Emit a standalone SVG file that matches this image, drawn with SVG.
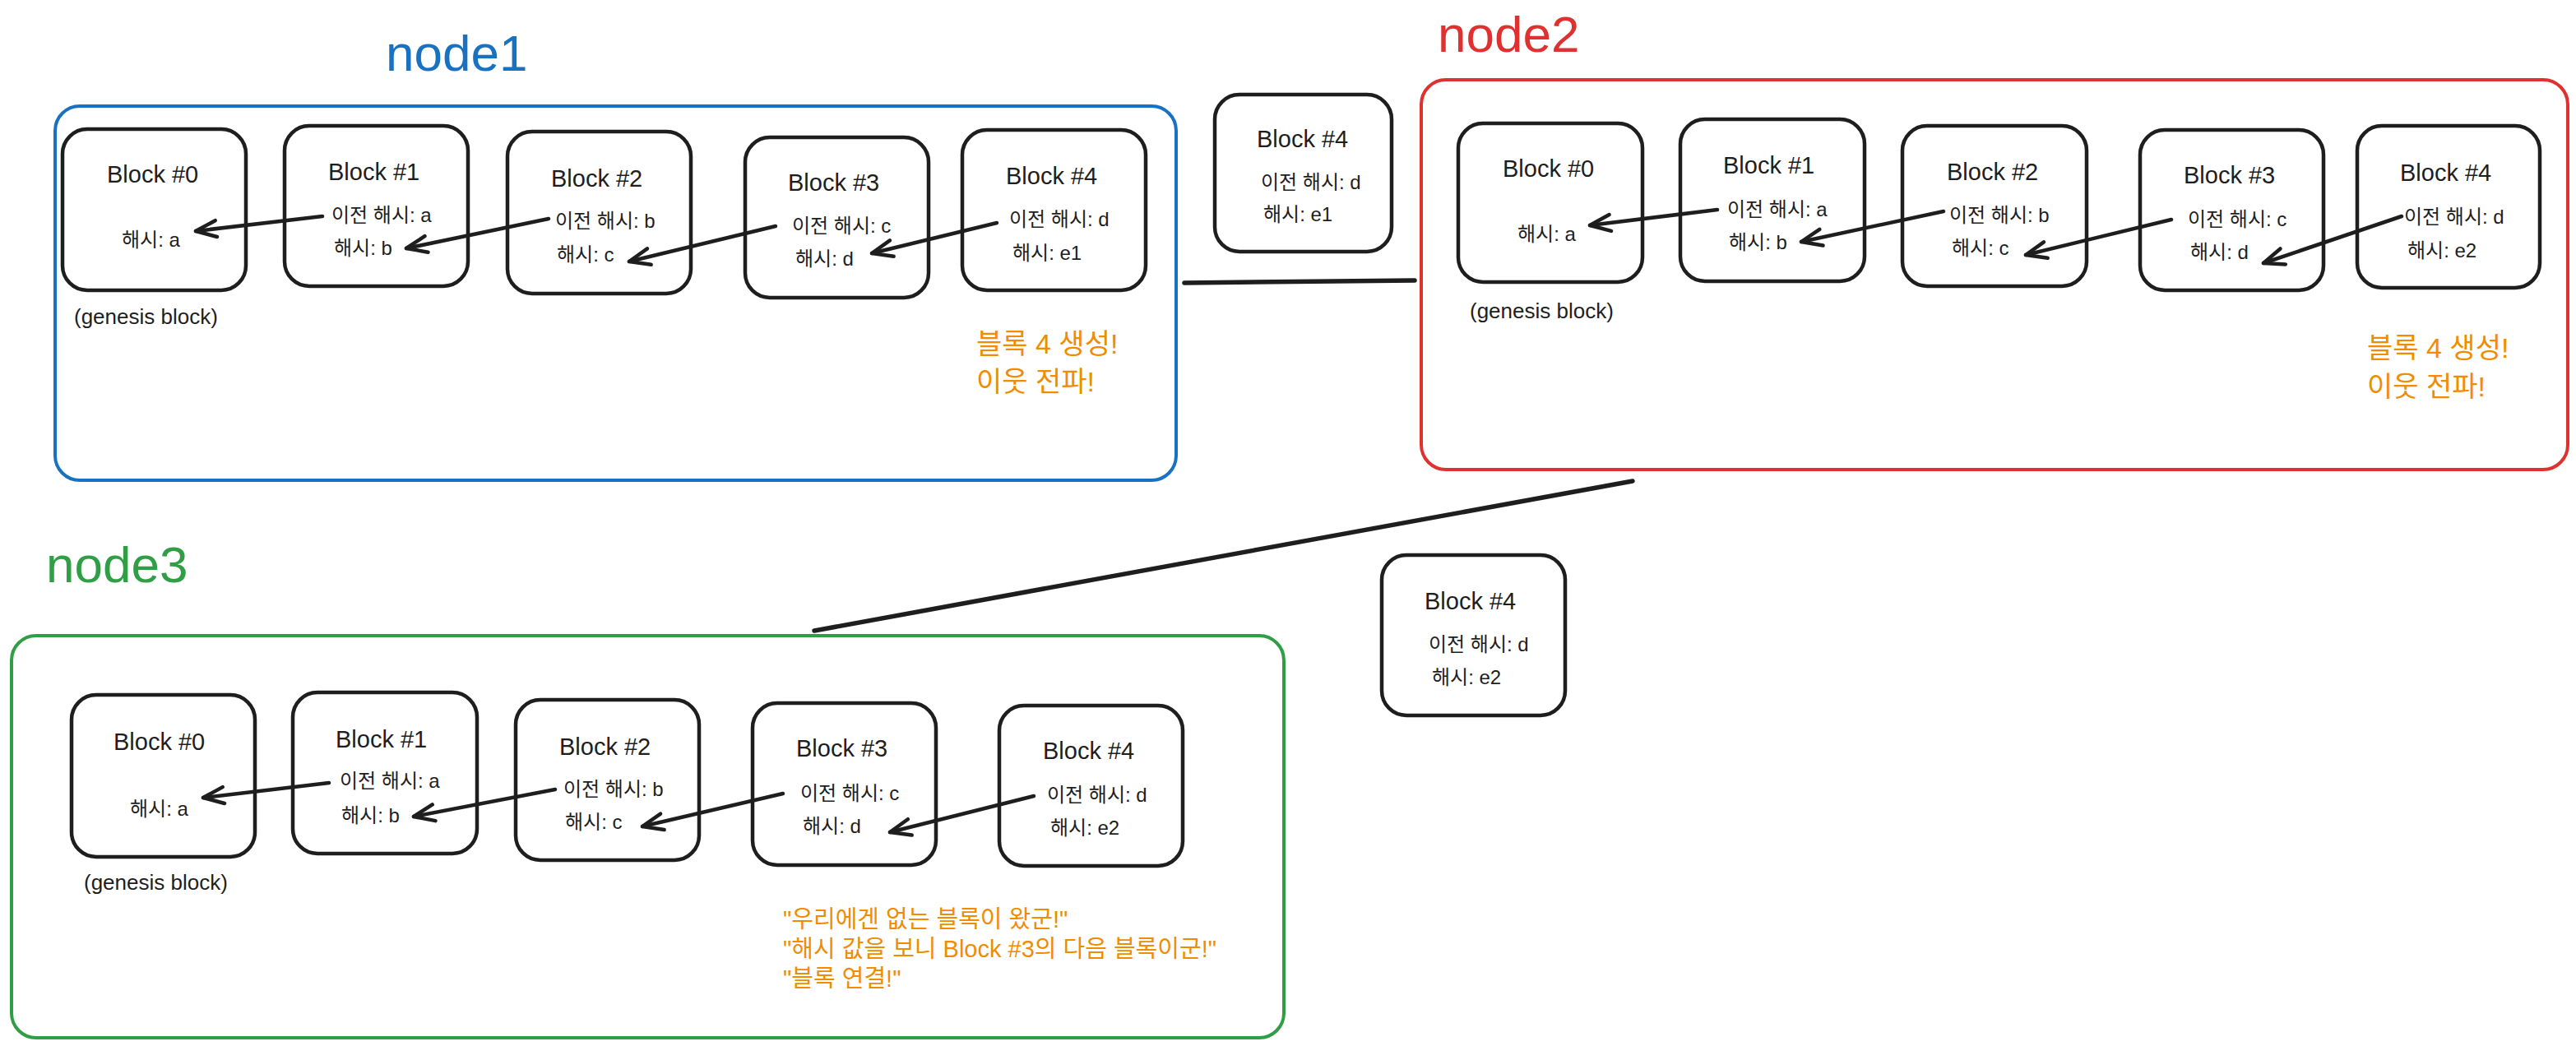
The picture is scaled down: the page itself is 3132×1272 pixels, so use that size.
<svg xmlns="http://www.w3.org/2000/svg" width="3132" height="1272" viewBox="0 0 3132 1272">
<defs>
<style>
.bg{fill:#ffffff}
.blk{fill:none;stroke:#1e1e1e;stroke-width:4.5}
.t{font-family:"Liberation Sans","Noto Sans CJK KR",sans-serif;fill:#1e1e1e}
.ttl{font-size:29px}
.h{font-size:24px}
.gen{font-size:26px}
.or{font-family:"Liberation Sans","Noto Sans CJK KR",sans-serif;fill:#f08c00}
.or1{font-size:34px}
.or2{font-size:29px}
.name{font-family:"Liberation Sans","Noto Sans CJK KR",sans-serif;font-size:62px}
.arr{fill:none;stroke:#1e1e1e;stroke-width:4.5;stroke-linecap:round;marker-end:url(#ah)}
.link{fill:none;stroke:#1e1e1e;stroke-width:5.5;stroke-linecap:round}
</style>
<marker id="ah" markerUnits="userSpaceOnUse" markerWidth="40" markerHeight="40" refX="0" refY="0" orient="auto" overflow="visible">
<path d="M -25 -10 L 0 0 L -25 10" fill="none" stroke="#1e1e1e" stroke-width="4.5" stroke-linecap="round" stroke-linejoin="round"/>
</marker>
</defs>
<rect class="bg" x="0" y="0" width="3132" height="1272"/>

<g id="node1">
<text class="name" x="469" y="86" fill="#1971c2">node1</text>
<rect x="67" y="129" width="1363" height="455" rx="30" fill="none" stroke="#1971c2" stroke-width="4"/>
<text class="or or1" x="1187" y="430">블록 4 생성!</text>
<text class="or or1" x="1187" y="476">이웃 전파!</text>
<text class="t gen" x="90" y="394">(genesis block)</text>
</g>
<g id="n1-block0">
<rect class="blk" x="76" y="157" width="223" height="196" rx="30"/>
<text class="t ttl" x="130" y="222">Block #0</text>
<text class="t h" x="148" y="300">해시: a</text>
</g>
<g id="n1-block1">
<rect class="blk" x="346" y="153" width="223" height="195" rx="30"/>
<text class="t ttl" x="399" y="219">Block #1</text>
<text class="t h" x="403" y="270">이전 해시: a</text>
<text class="t h" x="406" y="310">해시: b</text>
</g>
<g id="n1-block2">
<rect class="blk" x="617" y="160" width="223" height="197" rx="30"/>
<text class="t ttl" x="670" y="227">Block #2</text>
<text class="t h" x="675" y="277">이전 해시: b</text>
<text class="t h" x="677" y="318">해시: c</text>
</g>
<g id="n1-block3">
<rect class="blk" x="906" y="167" width="223" height="195" rx="30"/>
<text class="t ttl" x="958" y="232">Block #3</text>
<text class="t h" x="963" y="283">이전 해시: c</text>
<text class="t h" x="967" y="323">해시: d</text>
</g>
<g id="n1-block4">
<rect class="blk" x="1170" y="158" width="223" height="195" rx="30"/>
<text class="t ttl" x="1223" y="224">Block #4</text>
<text class="t h" x="1227" y="275">이전 해시: d</text>
<text class="t h" x="1231" y="316">해시: e1</text>
</g>

<g id="sent-block4">
<rect class="blk" x="1477" y="115" width="215" height="191" rx="30"/>
<text class="t ttl" x="1528" y="179">Block #4</text>
<text class="t h" x="1533" y="230">이전 해시: d</text>
<text class="t h" x="1536" y="269">해시: e1</text>
</g>

<g id="node2">
<text class="name" x="1748" y="63" fill="#e03131">node2</text>
<rect x="1728" y="97" width="1394" height="474" rx="30" fill="none" stroke="#e03131" stroke-width="4"/>
<text class="or or1" x="2878" y="435">블록 4 생성!</text>
<text class="or or1" x="2878" y="482">이웃 전파!</text>
<text class="t gen" x="1787" y="387">(genesis block)</text>
</g>
<g id="n2-block0">
<rect class="blk" x="1773" y="150" width="224" height="193" rx="30"/>
<text class="t ttl" x="1827" y="215">Block #0</text>
<text class="t h" x="1845" y="293">해시: a</text>
</g>
<g id="n2-block1">
<rect class="blk" x="2043" y="145" width="224" height="197" rx="30"/>
<text class="t ttl" x="2095" y="211">Block #1</text>
<text class="t h" x="2100" y="263">이전 해시: a</text>
<text class="t h" x="2102" y="303">해시: b</text>
</g>
<g id="n2-block2">
<rect class="blk" x="2313" y="153" width="224" height="195" rx="30"/>
<text class="t ttl" x="2367" y="219">Block #2</text>
<text class="t h" x="2370" y="270">이전 해시: b</text>
<text class="t h" x="2373" y="310">해시: c</text>
</g>
<g id="n2-block3">
<rect class="blk" x="2602" y="158" width="223" height="195" rx="30"/>
<text class="t ttl" x="2655" y="223">Block #3</text>
<text class="t h" x="2660" y="275">이전 해시: c</text>
<text class="t h" x="2663" y="315">해시: d</text>
</g>
<g id="n2-block4">
<rect class="blk" x="2866" y="153" width="222" height="197" rx="30"/>
<text class="t ttl" x="2918" y="220">Block #4</text>
<text class="t h" x="2923" y="272">이전 해시: d</text>
<text class="t h" x="2927" y="313">해시: e2</text>
</g>

<g id="recv-block4">
<rect class="blk" x="1680" y="675" width="223" height="195" rx="30"/>
<text class="t ttl" x="1732" y="741">Block #4</text>
<text class="t h" x="1737" y="792">이전 해시: d</text>
<text class="t h" x="1741" y="832">해시: e2</text>
</g>

<g id="node3">
<text class="name" x="56" y="708" fill="#2f9e44">node3</text>
<rect x="14" y="773" width="1547" height="489" rx="30" fill="none" stroke="#2f9e44" stroke-width="4"/>
<text class="t gen" x="102" y="1082">(genesis block)</text>
<text class="or or2" x="952" y="1128">"우리에겐 없는 블록이 왔군!"</text>
<text class="or or2" x="952" y="1164">"해시 값을 보니 Block #3의 다음 블록이군!"</text>
<text class="or or2" x="952" y="1200">"블록 연결!"</text>
</g>
<g id="n3-block0">
<rect class="blk" x="87" y="845" width="223" height="197" rx="30"/>
<text class="t ttl" x="138" y="912">Block #0</text>
<text class="t h" x="158" y="992">해시: a</text>
</g>
<g id="n3-block1">
<rect class="blk" x="356" y="842" width="224" height="196" rx="30"/>
<text class="t ttl" x="408" y="909">Block #1</text>
<text class="t h" x="413" y="958">이전 해시: a</text>
<text class="t h" x="415" y="1000">해시: b</text>
</g>
<g id="n3-block2">
<rect class="blk" x="627" y="851" width="223" height="195" rx="30"/>
<text class="t ttl" x="680" y="918">Block #2</text>
<text class="t h" x="685" y="968">이전 해시: b</text>
<text class="t h" x="687" y="1008">해시: c</text>
</g>
<g id="n3-block3">
<rect class="blk" x="915" y="855" width="223" height="197" rx="30"/>
<text class="t ttl" x="968" y="920">Block #3</text>
<text class="t h" x="973" y="973">이전 해시: c</text>
<text class="t h" x="976" y="1013">해시: d</text>
</g>
<g id="n3-block4">
<rect class="blk" x="1215" y="858" width="223" height="195" rx="30"/>
<text class="t ttl" x="1268" y="923">Block #4</text>
<text class="t h" x="1273" y="975">이전 해시: d</text>
<text class="t h" x="1277" y="1015">해시: e2</text>
</g>

<g id="connectors">
<path class="arr" d="M 392 263 L 238 281"/>
<path class="arr" d="M 667 266 L 494 302"/>
<path class="arr" d="M 943 275 L 765 318"/>
<path class="arr" d="M 1212 271 L 1060 308"/>
<path class="arr" d="M 2088 255 L 1933 274"/>
<path class="arr" d="M 2363 257 L 2190 294"/>
<path class="arr" d="M 2640 267 L 2463 310"/>
<path class="arr" d="M 2920 263 L 2752 320"/>
<path class="arr" d="M 400 952 L 247 970"/>
<path class="arr" d="M 675 960 L 503 993"/>
<path class="arr" d="M 952 965 L 781 1005"/>
<path class="arr" d="M 1257 968 L 1082 1012"/>
<path class="link" d="M 1440 344 L 1720 341"/>
<path class="link" d="M 1985 585 L 990 767"/>
</g>
</svg>
